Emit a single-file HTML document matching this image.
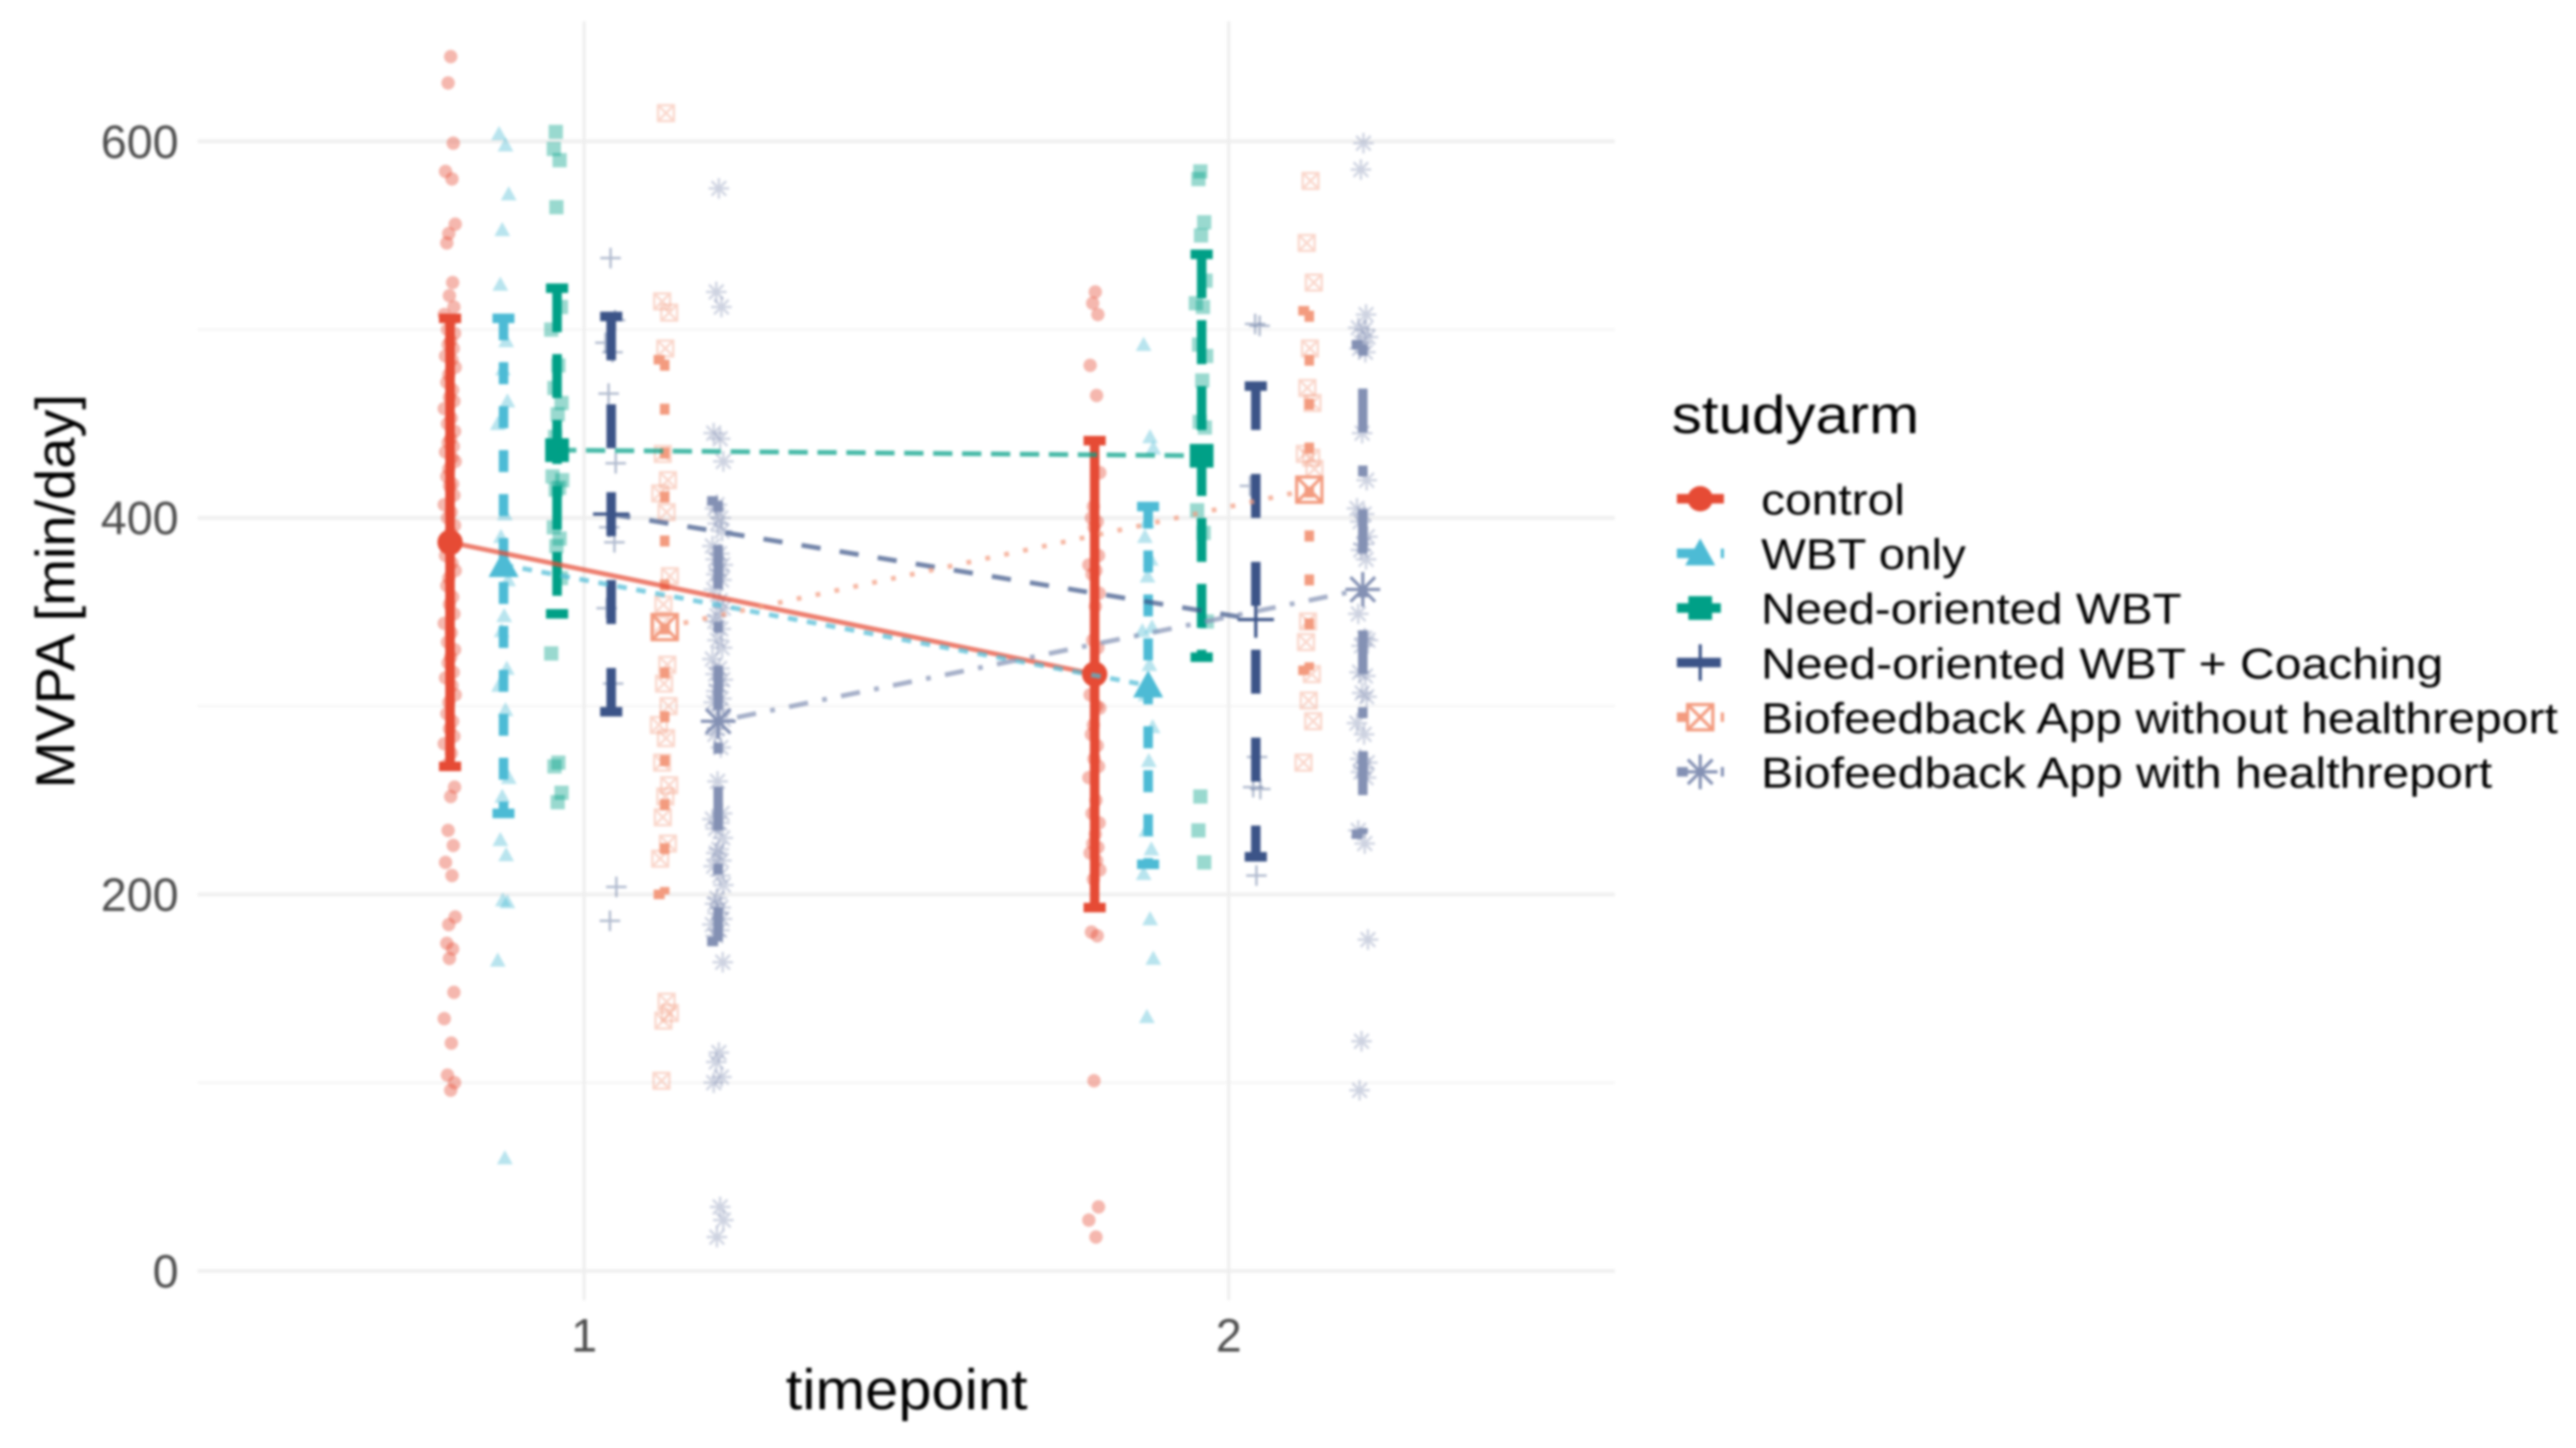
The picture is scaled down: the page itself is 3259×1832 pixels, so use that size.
<!DOCTYPE html>
<html lang="en">
<head>
<meta charset="utf-8">
<title>MVPA by timepoint and study arm</title>
<style>
html,body{margin:0;padding:0;background:#fff;width:3259px;height:1832px;overflow:hidden}
svg{display:block;filter:blur(1.6px);font-family:"Liberation Sans",Arial,sans-serif}
</style>
</head>
<body>
<svg id="chart" xmlns="http://www.w3.org/2000/svg" width="3259" height="1832" viewBox="0 0 3259 1832">
  <rect x="0" y="0" width="3259" height="1832" fill="#ffffff"/>
  <g id="grid"></g>
  <g id="points"></g>
  <g id="errorbars"></g>
  <g id="means"></g>
  <g id="lines"></g>
  <g id="ticks"></g>
  <text x="1147" y="1783" font-size="72" fill="#000" text-anchor="middle" textLength="306" lengthAdjust="spacingAndGlyphs">timepoint</text>
  <text transform="translate(94,748) rotate(-90)" font-size="70" fill="#000" text-anchor="middle" textLength="499" lengthAdjust="spacingAndGlyphs">MVPA [min/day]</text>
  <g id="legend">
    <text x="2115" y="548" font-size="68" fill="#000" textLength="313" lengthAdjust="spacingAndGlyphs">studyarm</text>
  </g>
</svg>
<script>
// ---- chart data ----
const armNames = ["control","WBT only","Need-oriented WBT","Need-oriented WBT + Coaching","Biofeedback App without healthreport","Biofeedback App with healthreport"];
const xTicks = [1, 2];
const yTicks = [0, 200, 400, 600];
const yMinorTicks = [100, 300, 500];

const meanT1 = [387, 375, 436, 402, 342, 292];
const meanT2 = [317, 311, 433, 346, 415, 362];
const upperT1 = [506, 506, 522, 507, 484, 409];
const lowerT1 = [268, 243, 349, 297, 200, 175];
const upperT2 = [441, 406, 540, 470, 510, 492];
const lowerT2 = [193, 216, 326, 220, 319, 232];

const controlT1 = [645,631,599,584,580,556,551,546,525,518,512,508,505,500,498,494,492,490,486,484,480,476,472,468,464,462,458,453,450,446,442,440,438,435,432,430,426,422,418,417,412,407,403,400,396,392,388,384,380,376,372,368,364,358,354,349,344,339,334,330,326,323,318,315,311,306,302,296,292,288,284,280,275,269,257,252,234,226,217,210,188,184,174,171,166,148,134,121,104,100,96];
const wbtT1 = [604,598,572,553,524,494,479,462,450,402,390,367,348,340,320,311,298,262,252,229,221,197,196,165,60];
const needT1 = [605,596,590,565,512,500,481,469,461,455,443,435,422,416,420,415,395,389,385,368,328,270,268,254,249];
const coachT1 = [538,505,493,488,466,429,402,395,387,352,312,204,186];
const bioNoT1 = [615,515,509,490,434,420,413,403,369,354,343,322,312,300,290,283,270,258,252,241,227,219,143,137,133,101];
const bioWithT1 = [575,520,512,445,442,430,407,405,400,397,393,385,381,378,375,372,370,367,362,356,352,348,345,341,335,331,325,320,317,314,311,308,304,302,298,293,288,285,278,260,243,240,238,235,230,224,222,218,215,210,205,198,195,193,190,187,184,181,178,164,116,111,103,100,34,27,18];
const controlT2 = [520,514,508,481,465,424,406,400,398,395,380,375,372,370,360,353,335,331,306,300,299,290,285,279,272,268,262,250,243,238,232,227,225,222,218,213,208,180,178,101,34,27,18];
const wbtT2 = [492,443,437,398,390,378,369,342,340,322,306,289,271,234,224,211,187,166,135];
const needT2 = [584,580,557,550,526,514,512,492,486,473,451,448,404,392,345,252,234,217];
const coachT2 = [503,502,417,273,257,256,210];
const bioNoT2 = [579,546,525,490,469,461,434,432,426,345,334,317,303,292,270];
const bioWithT2 = [599,585,508,501,500,496,493,490,488,445,420,405,402,398,390,386,383,378,349,336,335,332,318,316,307,305,291,285,272,270,267,265,262,234,227,176,122,96];
const jitterCycle = [0.001,-0.003,0.005,-0.007,0.003,0.008,-0.002,-0.005,0.004,-0.001,0.006,-0.009,0.002,-0.004,0.007];

const pointsT1 = [controlT1, wbtT1, needT1, coachT1, bioNoT1, bioWithT1];
const pointsT2 = [controlT2, wbtT2, needT2, coachT2, bioNoT2, bioWithT2];

// ---- styling ----
const armColors = ["#E64B35","#4DBBD5","#00A087","#3C5488","#F39B7F","#8491B4"];
const armDash = [[],[2,2],[4,2],[4,4],[1,3],[1,3,4,3]];
const armOffsets = [-0.208,-0.125,-0.042,0.042,0.125,0.208];
const armKeys = ["control","wbt-only","need-wbt","need-wbt-coaching","biofeedback-no-report","biofeedback-with-report"];
const legendWidths = [182,259,532,863,1008,925];

// ---- axes ----
function sx(t){ return 739 + (t - 1) * 815.5; }
function sy(v){ return 1608 - v * 2.382; }

const NS = "http://www.w3.org/2000/svg";
function add(parent, tag, name){
  const el = document.createElementNS(NS, tag);
  
  
  document.getElementById(parent).appendChild(el);
  return el;
}
function dashStr(unit, dash){ return dash.length ? dash.map(function(d){ return d * unit; }).join(" ") : "none"; }

function markerPath(arm, cx, cy, s){
  if (arm === 1) { return "M" + (cx - s) + " " + (cy + s * 0.8) + "L" + cx + " " + (cy - s) + "L" + (cx + s) + " " + (cy + s * 0.8) + "Z"; }
  if (arm === 2) { return "M" + (cx - s) + " " + (cy - s) + "H" + (cx + s) + "V" + (cy + s) + "H" + (cx - s) + "Z"; }
  if (arm === 3) { return "M" + (cx - s) + " " + cy + "H" + (cx + s) + "M" + cx + " " + (cy - s) + "V" + (cy + s); }
  if (arm === 4) { return "M" + (cx - s) + " " + (cy - s) + "H" + (cx + s) + "V" + (cy + s) + "H" + (cx - s) + "Z" +
    "M" + (cx - s) + " " + (cy - s) + "L" + (cx + s) + " " + (cy + s) + "M" + (cx + s) + " " + (cy - s) + "L" + (cx - s) + " " + (cy + s); }
  const d = s * 0.707;
  return "M" + (cx - s) + " " + cy + "H" + (cx + s) + "M" + cx + " " + (cy - s) + "V" + (cy + s) +
    "M" + (cx - d) + " " + (cy - d) + "L" + (cx + d) + " " + (cy + d) + "M" + (cx + d) + " " + (cy - d) + "L" + (cx - d) + " " + (cy + d);
}

function drawMarker(parent, name, arm, cx, cy, big, alpha){
  const color = armColors[arm];
  if (arm === 0) {
    const c = add(parent, "circle", name);
    c.setAttribute("cx", cx);
    c.setAttribute("cy", cy);
    c.setAttribute("r", big ? 16 : 8.5);
    c.setAttribute("fill", color);
    c.setAttribute("fill-opacity", alpha);
    return;
  }
  const sizes = big ? [0,19,15,23,16,22] : [0,10,9,13,10,13];
  const p = add(parent, "path", name);
  p.setAttribute("d", markerPath(arm, cx, cy, sizes[arm]));
  if (arm === 1 || arm === 2) {
    p.setAttribute("fill", color);
    p.setAttribute("fill-opacity", alpha);
  } else {
    p.setAttribute("fill", "none");
    p.setAttribute("stroke", color);
    p.setAttribute("stroke-opacity", alpha);
    p.setAttribute("stroke-width", big ? 4 : 3);
  }
}

function segment(parent, name, x1, y1, x2, y2, color, width, dash, unit, opacity){
  const l = add(parent, "line", name);
  l.setAttribute("x1", x1);
  l.setAttribute("y1", y1);
  l.setAttribute("x2", x2);
  l.setAttribute("y2", y2);
  l.setAttribute("stroke", color);
  l.setAttribute("stroke-width", width);
  l.setAttribute("stroke-dasharray", dashStr(unit, dash));
  l.setAttribute("stroke-opacity", opacity);
}

// ---- gridlines ----
yMinorTicks.forEach(function(v){
  segment("grid", "y-minor-gridline-" + v, 250, sy(v), 2043, sy(v), "#f5f5f5", 3, [], 1, 1);
});
yTicks.forEach(function(v){
  segment("grid", "y-major-gridline-" + v, 250, sy(v), 2043, sy(v), "#f0f0f0", 5, [], 1, 1);
});
xTicks.forEach(function(t){
  segment("grid", "x-major-gridline-" + t, sx(t), 27, sx(t), 1645, "#eeeeee", 4, [], 1, 1);
});

// ---- tick labels ----
yTicks.forEach(function(v){
  const t = add("ticks", "text", "y-tick-label-" + v);
  t.setAttribute("x", 226);
  t.setAttribute("y", sy(v) + 21);
  t.setAttribute("font-size", 59);
  t.setAttribute("fill", "#4D4D4D");
  t.setAttribute("text-anchor", "end");
  t.textContent = String(v);
});
xTicks.forEach(function(v){
  const t = add("ticks", "text", "x-tick-label-" + v);
  t.setAttribute("x", sx(v));
  t.setAttribute("y", 1710);
  t.setAttribute("font-size", 59);
  t.setAttribute("fill", "#4D4D4D");
  t.setAttribute("text-anchor", "middle");
  t.textContent = String(v);
});

// ---- series ----
armNames.forEach(function(_, arm){
  const key = armKeys[arm];
  const color = armColors[arm];
  [pointsT1[arm], pointsT2[arm]].forEach(function(vals, ti){
    vals.forEach(function(v, i){
      const t = (ti + 1) + armOffsets[arm] + jitterCycle[(i + arm * 3) % jitterCycle.length];
      drawMarker("points", "point-" + key + "-t" + (ti + 1), arm, sx(t), sy(v), false, 0.4);
    });
  });
  [[1, upperT1[arm], lowerT1[arm], meanT1[arm]], [2, upperT2[arm], lowerT2[arm], meanT2[arm]]].forEach(function(r){
    const cx = sx(r[0] + armOffsets[arm]);
    segment("errorbars", "errorbar-top-cap-" + key + "-t" + r[0], cx - 14, sy(r[1]), cx + 14, sy(r[1]), color, 12, armDash[arm], 13.9, 1);
    segment("errorbars", "errorbar-stem-" + key + "-t" + r[0], cx, sy(r[1]), cx, sy(r[2]), color, 12, armDash[arm], 13.9, 1);
    segment("errorbars", "errorbar-bottom-cap-" + key + "-t" + r[0], cx - 14, sy(r[2]), cx + 14, sy(r[2]), color, 12, armDash[arm], 13.9, 1);
    drawMarker("means", "mean-marker-" + key + "-t" + r[0], arm, cx, sy(r[3]), true, 1);
  });
  segment("lines", "mean-line-" + key, sx(1 + armOffsets[arm]), sy(meanT1[arm]), sx(2 + armOffsets[arm]), sy(meanT2[arm]), color, 6, armDash[arm], 6.1, 0.72);
});

// ---- legend ----
armNames.forEach(function(label, arm){
  const key = armKeys[arm];
  const ky = 631 + arm * 69.1;
  segment("legend", "legend-key-bar-" + key, 2121.5, ky, 2181, ky, armColors[arm], 12, armDash[arm], 13.9, 1);
  drawMarker("legend", "legend-key-marker-" + key, arm, 2151, ky, true, 1);
  const t = add("legend", "text", "legend-label-" + key);
  t.setAttribute("x", 2228);
  t.setAttribute("y", ky + 20);
  t.setAttribute("font-size", 55);
  t.setAttribute("fill", "#000");
  t.setAttribute("textLength", legendWidths[arm]);
  t.setAttribute("lengthAdjust", "spacingAndGlyphs");
  t.textContent = label;
});
</script>
</body>
</html>
